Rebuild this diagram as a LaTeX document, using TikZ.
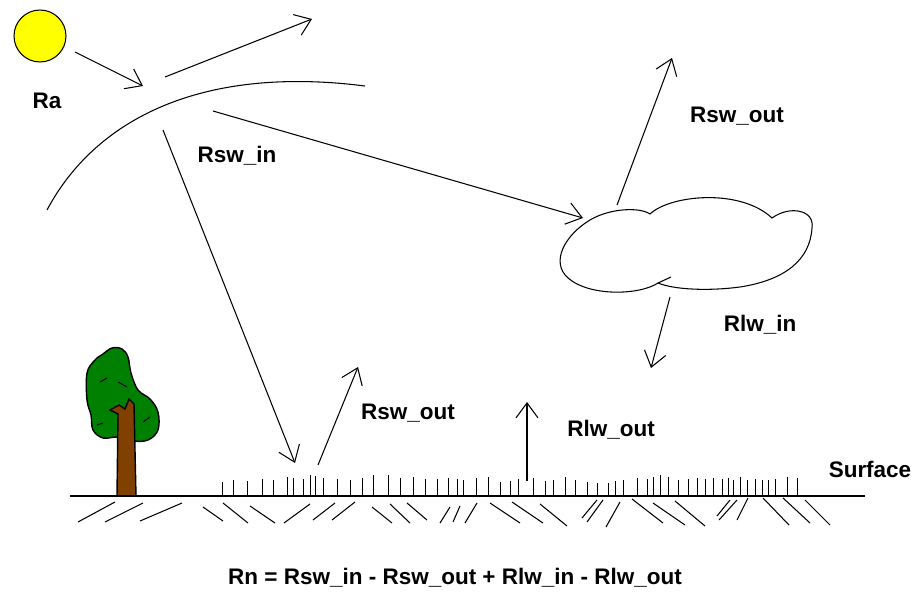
\documentclass[tikz,border=0pt]{standalone}
\usepackage{fontspec}
\setmainfont{Liberation Sans}
\usetikzlibrary{arrows.meta}

\definecolor{sunyellow}{RGB}{255,255,0}
\definecolor{leafgreen}{RGB}{0,128,0}
\definecolor{barkbrown}{RGB}{128,64,0}

\begin{document}
\begin{tikzpicture}[x=0.02cm, y=-0.02cm,
    lbl/.style={font=\fontsize{12.8}{15}\selectfont\bfseries, inner sep=0pt},
    ray/.style={-{Straight Barb[length=3mm, width=4.4mm]}, line width=0.6pt},
    hatch/.style={line width=0.6pt},
    blade/.style={line width=0.55pt}]
    \useasboundingbox (0,0) rectangle (913,592);

    % sun and labels
    \node[draw, circle, fill=sunyellow, minimum size=1.04cm, inner sep=0pt, line width=0.6pt] (sun) at (40,36) {};
    \node[lbl] (ra) at (47,101) {Ra};
    \node[lbl] (swin) at (237,156) {Rsw\_in};
    \node[lbl] (swoutcl) at (737,116) {Rsw\_out};
    \node[lbl] (lwin) at (760,325) {Rlw\_in};
    \node[lbl] (swoutgr) at (408,413) {Rsw\_out};
    \node[lbl] (lwout) at (611,430) {Rlw\_out};
    \node[lbl] (surf) at (870,469) {Surface};
    \node[lbl] (balance) at (455,578) {Rn = Rsw\_in - Rsw\_out + Rlw\_in - Rlw\_out};

    % end points of the rays
    \coordinate (sunray) at (75,52);   \coordinate (toa) at (143,86);
    \coordinate (reflA) at (165,77);   \coordinate (reflB) at (312,19);
    \coordinate (inA) at (213,111);    \coordinate (inB) at (583,218);
    \coordinate (inC) at (163,130);    \coordinate (inD) at (295,463);
    \coordinate (cltop) at (617,205);  \coordinate (clup) at (672,58);
    \coordinate (clbot) at (670,297);  \coordinate (cldown) at (651,368);
    \coordinate (grA) at (318,465);    \coordinate (grB) at (358,367);
    \coordinate (lwA) at (527,481);    \coordinate (lwB) at (527,402);

    % top of the atmosphere
    \draw[line width=0.6pt] (47,210) .. controls (95,120) and (200,65) .. (365,86);

    % cloud
    \draw[line width=0.6pt, fill=white] (658,283) .. controls (640,295) and (590,297) .. (568,278)
        .. controls (550,262) and (565,235) .. (590,220)
        .. controls (610,208) and (640,207) .. (650,214)
        .. controls (670,195) and (740,188) .. (772,218)
        .. controls (790,205) and (815,210) .. (812,228)
        .. controls (810,260) and (785,280) .. (740,287)
        .. controls (710,291) and (675,290) .. (658,283) -- cycle;
    \draw[line width=0.6pt] (658,283) -- (671,277);

    % rays
    \draw[ray] (sunray) -- (toa);
    \draw[ray] (reflA) -- (reflB);
    \draw[ray] (inA) -- (inB);
    \draw[ray] (inC) -- (inD);
    \draw[ray] (cltop) -- (clup);
    \draw[ray] (clbot) -- (cldown);
    \draw[ray] (grA) -- (grB);
    \draw[ray] (lwA) -- (lwB);

    % tree
    \draw[line width=0.8pt, fill=leafgreen] plot[smooth cycle, tension=0.6] coordinates {
        (103,354) (112,348) (122,349) (128,357) (131,373) (138,390) (150,399) (158,412)
        (158,430) (148,440) (133,441) (118,437) (103,438) (93,430) (91,415) (87,400) (87,373) (95,360)};
    \draw[line width=0.6pt] (100,382) -- (107,378) (118,382) -- (127,387)
        (97,425) -- (103,423) (143,422) -- (150,417);
    \draw[line width=0.8pt, fill=barkbrown] (117,496) -- (118,414) -- (110,410) -- (119,405)
        -- (125,409) -- (129,399) -- (134,404) -- (136,496) -- cycle;

    % ground
    \draw[line width=0.8pt] (70,496) -- (865,496);
    \foreach \x/\h in {222/14,233/16,247/15,262/17,273/16,287/19,293/18,303/17,310/21,315/20,
        323/18,337/17,350/16,362/18,373/21,388/21,400/18,413/19,425/17,437/17,448/18,457/17,
        463/16,476/18,488/19,500/14,510/15,518/17,533/18,545/15,553/16,565/19,575/16,587/14,
        597/13,608/13,615/15,623/16,637/18,647/17,653/19,660/21,668/19,678/16,688/17,697/18,
        705/17,713/18,722/17,728/18,733/16,740/19,747/16,755/17,762/16,768/16,775/17,787/19,797/18}
        \draw[blade] (\x,496) -- ++(0,-\h);
    \foreach \a/\b/\c/\d in {78/522/115/502,105/522/143/503,140/521/182/503,203/507/223/521,
        223/503/248/523,250/506/275/523,284/523/310/504,313/520/335/503,332/520/355/502,
        372/507/392/523,390/504/410/523,407/503/427/520,440/523/450/507,453/522/460/506,
        465/523/477/503,490/503/520/523,512/502/543/523,540/504/567/526,582/518/597/500,
        587/522/603/500,606/527/620/502,632/499/663/523,653/503/685/525,675/501/705/526,
        717/516/730/500,719/520/737/500,737/520/748/498,763/498/789/525,783/498/810/523,
        805/500/830/525}
        \draw[hatch] (\a,\b) -- (\c,\d);
\end{tikzpicture}
\end{document}
